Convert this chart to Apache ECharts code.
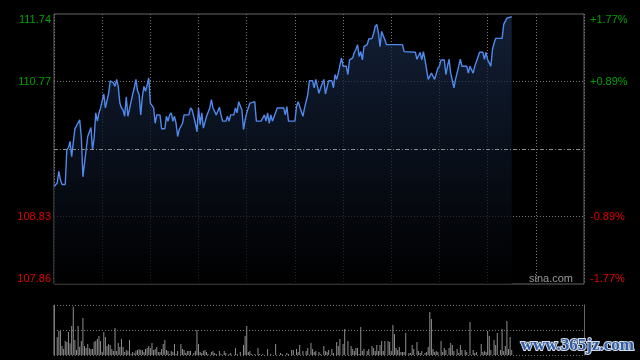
<!DOCTYPE html>
<html>
<head>
<meta charset="utf-8">
<script src="https://cdn.jsdelivr.net/npm/echarts@6/dist/echarts.min.js"></script>
<style>
html,body{margin:0;padding:0;background:#000;}
#chart{width:640px;height:360px;}
</style>
</head>
<body>
<div id="chart"></div>
<script>
// ---- data ----
const prevClose = 109.80;
const priceLabels = ['107.86', '108.83', '', '110.77', '111.74'];
const pctLabels = ['-1.77%', '-0.89%', '', '+0.89%', '+1.77%'];

const priceTimes = [0,2,3,4,5,7,8,9,10,11,12,13,14,16,17,18,19,20,21,22,23,24,25,26,27,28,29,30,31,32,33,34,35,37,38,39,40,41,42,43,44,45,46,48,49,50,51,52,53,54,55,56,57,58,59,60,62,63,64,66,67,69,70,71,72,73,74,75,76,77,78,80,81,84,85,86,87,88,89,90,91,92,93,94,95,96,97,98,99,100,101,102,103,104,105,107,108,109,110,112,113,114,115,116,117,118,119,120,122,123,125,126,129,131,132,133,134,135,136,137,139,143,144,145,146,150,151,152,153,154,155,156,157,158,159,161,162,163,165,166,167,168,169,170,171,173,174,175,176,177,178,179,180,181,182,183,184,186,187,188,189,190,191,192,193,195,196,198,199,200,201,202,203,204,205,206,207,217,218,225,226,227,228,229,230,231,232,233,234,235,236,237,238,239,240,241,243,244,245,246,247,248,249,250,251,252,253,254,257,258,259,260,261,262,263,265,267,268,269,270,271,272,273,274,275,279,280,281,282,285];
const prices = [109.26,109.31,109.48,109.36,109.29,109.29,109.79,109.82,109.91,109.69,109.69,110.09,110.09,110.22,109.98,109.40,109.40,109.79,109.98,109.99,110.11,109.79,109.96,110.32,110.20,110.32,110.39,110.40,110.59,110.39,110.39,110.60,110.78,110.75,110.70,110.80,110.70,110.46,110.39,110.36,110.27,110.55,110.27,110.48,110.59,110.68,110.80,110.64,110.58,110.29,110.55,110.70,110.63,110.72,110.82,110.46,110.39,110.17,110.29,110.29,110.09,110.09,110.27,110.20,110.29,110.32,110.20,110.27,110.17,109.98,110.08,110.17,110.29,110.29,110.39,110.36,110.27,110.17,110.05,110.39,110.15,110.32,110.10,110.09,110.27,110.29,110.39,110.51,110.39,110.39,110.29,110.27,110.40,110.29,110.20,110.20,110.27,110.20,110.29,110.29,110.39,110.32,110.48,110.48,110.36,110.08,110.22,110.32,110.46,110.48,110.48,110.20,110.20,110.29,110.20,110.32,110.17,110.29,110.20,110.20,110.39,110.39,110.29,110.41,110.20,110.20,110.41,110.48,110.48,110.34,110.27,110.39,110.39,110.58,110.78,110.78,110.68,110.80,110.60,110.68,110.68,110.80,110.59,110.59,110.78,110.78,110.68,110.87,110.80,110.89,110.90,111.11,110.99,111.00,110.99,110.87,111.08,111.11,111.19,111.23,111.30,111.13,111.20,111.08,111.27,111.30,111.38,111.39,111.46,111.56,111.59,111.47,111.27,111.49,111.47,111.37,111.30,111.30,111.20,111.19,111.09,111.09,111.19,111.08,111.20,111.08,111.08,110.80,110.80,110.89,110.89,110.80,110.80,110.96,110.99,111.08,111.08,110.87,110.99,111.09,110.89,110.89,110.68,110.80,110.80,110.99,111.09,110.99,110.99,110.89,110.99,110.99,110.89,110.99,111.00,111.19,111.19,111.09,111.19,111.08,111.08,110.99,111.23,111.32,111.39,111.39,111.59,111.59,111.68,111.70];

const volTimes = [0,2,3,4,5,6,7,8,9,10,11,12,13,14,15,16,17,18,19,20,21,22,23,24,25,26,27,28,29,30,31,32,33,34,35,36,37,38,39,40,41,42,43,44,45,46,47,48,49,50,51,52,53,54,55,56,57,58,59,60,61,62,63,64,65,66,67,68,69,70,71,72,73,74,75,76,77,79,80,81,82,83,84,85,87,88,89,90,91,92,93,94,95,96,98,99,100,101,103,104,106,107,109,110,113,114,116,118,119,120,121,122,123,125,127,128,130,133,135,138,141,142,145,146,148,149,151,152,153,155,157,158,160,161,162,163,165,166,168,169,170,171,173,174,176,177,178,180,181,183,185,186,187,188,189,190,191,192,193,195,196,198,199,200,201,202,203,204,205,206,208,209,210,211,212,213,214,215,216,217,218,219,221,222,223,224,226,227,228,229,231,232,233,234,235,236,237,238,239,241,242,243,244,246,247,248,249,251,252,253,254,256,257,259,261,262,263,266,267,268,269,270,271,272,274,275,276,278,279,280,281,282,283,284,285];
const volumes = [150,53,73,73,27,18,42,39,69,35,87,145,45,15,87,25,42,111,27,21,33,20,18,18,40,42,48,57,42,10,69,54,27,33,30,18,12,81,12,36,24,48,24,9,15,12,45,3,9,5,13,15,18,15,15,9,18,21,27,21,36,15,18,24,9,9,18,33,45,15,12,3,12,9,33,3,12,33,18,15,6,12,12,12,6,12,75,33,9,6,12,15,9,3,9,12,6,3,12,3,12,6,3,6,21,3,9,30,57,87,9,12,3,3,21,3,3,18,3,33,6,3,6,3,15,15,18,9,30,12,12,21,36,18,9,12,9,3,27,12,9,15,18,6,39,27,48,33,78,42,27,18,12,21,21,3,84,12,18,12,18,27,21,12,30,12,30,42,12,42,42,39,12,90,63,21,15,24,9,9,9,66,6,6,30,18,39,12,6,12,6,9,24,129,108,18,9,12,9,42,9,21,15,21,36,30,12,18,6,30,15,15,9,99,15,6,9,33,9,12,9,72,57,15,45,30,66,15,78,12,27,102,18,54,15];

// ---- chart ----
const chart = echarts.init(document.getElementById('chart'), null, {renderer: 'canvas'});
const lineData = priceTimes.map((t, i) => [t, +(prices[i] - prevClose).toFixed(2)]);
const volData = volTimes.map((t, i) => [t, volumes[i]]);
const idx = v => Math.round(v / 0.97) + 2;
const labelColor = v => v > 0.001 ? '#00a000' : '#e00000';

const option = {
  backgroundColor: '#000',
  animation: false,
  grid: [
    {left: 54, right: 56, top: 14, height: 270, show: true, borderColor: '#666', borderWidth: 1, backgroundColor: 'transparent'},
    {left: 54, right: 56, top: 305, height: 50}
  ],
  xAxis: [
    {type: 'value', gridIndex: 0, min: 0, max: 330, interval: 30,
     axisLine: {show: false}, axisTick: {show: false}, axisLabel: {show: false},
     splitLine: {show: true, lineStyle: {color: '#777', type: [1, 2], width: 1}}},
    {type: 'value', gridIndex: 1, min: 0, max: 330, interval: 30,
     axisLine: {show: false}, axisTick: {show: false}, axisLabel: {show: false}, splitLine: {show: false}}
  ],
  yAxis: [
    {type: 'value', gridIndex: 0, min: -1.94, max: 1.94, interval: 0.97, position: 'left',
     axisLine: {show: false}, axisTick: {show: false},
     axisLabel: {show: true, margin: 3, fontSize: 11, fontFamily: 'Liberation Sans, Arial, sans-serif',
       formatter: v => priceLabels[idx(v)], color: labelColor,
       verticalAlignMinLabel: 'bottom', verticalAlignMaxLabel: 'top'},
     splitLine: {show: true, lineStyle: {color: ['transparent', '#777', 'transparent', '#777', 'transparent'], type: [1, 2]}}},
    {type: 'value', gridIndex: 0, min: -1.94, max: 1.94, interval: 0.97, position: 'right',
     axisLine: {show: false}, axisTick: {show: false}, splitLine: {show: false},
     axisLabel: {show: true, margin: 6, fontSize: 11, fontFamily: 'Liberation Sans, Arial, sans-serif',
       formatter: v => pctLabels[idx(v)], color: labelColor,
       verticalAlignMinLabel: 'bottom', verticalAlignMaxLabel: 'top'}},
    {type: 'value', gridIndex: 1, min: 0, max: 150, interval: 75, position: 'left',
     axisLine: {show: true, lineStyle: {color: '#666'}}, axisTick: {show: false}, axisLabel: {show: false},
     splitLine: {show: true, lineStyle: {color: '#777', type: [1, 2]}}},
    {type: 'value', gridIndex: 1, min: 0, max: 150, interval: 75, position: 'right',
     axisLine: {show: true, lineStyle: {color: '#666'}}, axisTick: {show: false}, axisLabel: {show: false},
     splitLine: {show: false}}
  ],
  series: [
    {type: 'line', xAxisIndex: 0, yAxisIndex: 0, data: lineData, showSymbol: false, symbol: 'none',
     lineStyle: {color: '#5089ec', width: 1.4},
     areaStyle: {origin: 'start', color: new echarts.graphic.LinearGradient(0, 0, 0, 1, [
       {offset: 0, color: '#1a2c4c'}, {offset: 1, color: '#000000'}])},
     markLine: {silent: true, symbol: 'none', label: {show: false},
       lineStyle: {color: '#8a8a8a', type: [4, 2, 1, 2], width: 1},
       data: [{yAxis: 0}]}},
    {type: 'bar', xAxisIndex: 1, yAxisIndex: 2, data: volData, barWidth: 1,
     itemStyle: {color: '#8f8f8f'}}
  ],
  graphic: [
    {type: 'text', right: 67, top: 273, silent: true,
     style: {text: 'sina.com', fill: '#9a9a9a', font: '11px "Liberation Sans", Arial, sans-serif'}},
    {type: 'text', right: 5, top: 336, silent: true, z: 100,
     style: {text: 'www.365jz.com', fill: '#2f5da3', stroke: '#d8dde8', lineWidth: 2,
       font: 'bold 17px "Liberation Serif", serif'}}
  ]
};
chart.setOption(option);
</script>
</body>
</html>
